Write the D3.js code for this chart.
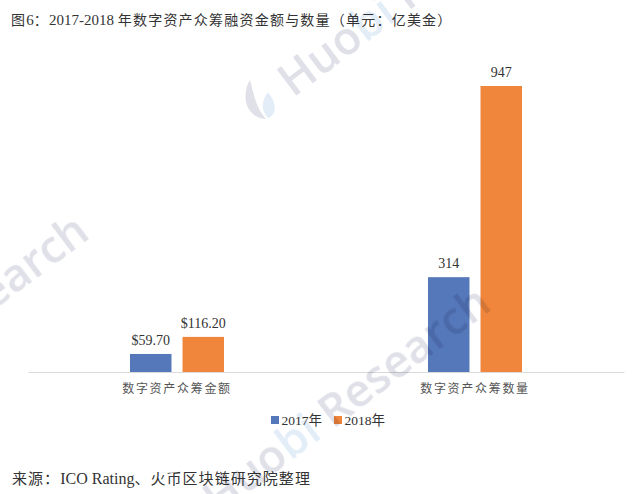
<!DOCTYPE html>
<html>
<head>
<meta charset="utf-8">
<script src="https://cdnjs.cloudflare.com/ajax/libs/d3/7.8.5/d3.min.js"></script>
<style>
html, body { margin: 0; padding: 0; background: #fff; }
svg { display: block; }
text { font-family: "Liberation Serif", "Noto Sans CJK SC", serif; fill: #333; }
</style>
</head>
<body>
<script>
var width = 638;
var height = 494;

var categories = ["数字资产众筹金额", "数字资产众筹数量"];
var seriesNames = ["2017年", "2018年"];
var values2017 = [59.7, 314];
var values2018 = [116.2, 947];
var labels2017 = ["$59.70", "314"];
var labels2018 = ["$116.20", "947"];
var colors = ["#5578ba", "#f0853c"];
var titleText = "图6：2017-2018 年数字资产众筹融资金额与数量（单元：亿美金）";
var sourceText = "来源：ICO Rating、火币区块链研究院整理";

var baseY = 372;
var topY = 86;

var svg = d3.select("body").append("svg").attr("width", width).attr("height", height);

var x = d3.scaleBand().domain(categories).range([28, 624]);
var y = d3.scaleLinear().domain([0, 947]).range([baseY, topY]);
var groupX = d3.scaleBand().domain(seriesNames).range([-47, 47]).paddingInner(0.21).paddingOuter(0);

var series = [
  { name: seriesNames[0], values: values2017, labels: labels2017, color: colors[0] },
  { name: seriesNames[1], values: values2018, labels: labels2018, color: colors[1] }
];

var groups = svg.selectAll("g.series").data(series).enter().append("g").attr("class", "series");

groups.selectAll("rect").data(function (s) {
  return s.values.map(function (v, i) { return { name: s.name, v: v, cat: categories[i], color: s.color }; });
}).enter().append("rect")
  .attr("x", function (d) { return x(d.cat) + x.bandwidth() / 2 + groupX(d.name); })
  .attr("y", function (d) { return y(d.v); })
  .attr("width", groupX.bandwidth())
  .attr("height", function (d) { return baseY - y(d.v); })
  .attr("fill", function (d) { return d.color; });

groups.selectAll("text").data(function (s) {
  return s.values.map(function (v, i) { return { name: s.name, v: v, cat: categories[i], label: s.labels[i] }; });
}).enter().append("text")
  .attr("x", function (d) { return x(d.cat) + x.bandwidth() / 2 + groupX(d.name) + groupX.bandwidth() / 2; })
  .attr("y", function (d) { return y(d.v) - 9; })
  .attr("text-anchor", "middle")
  .attr("font-size", 14)
  .text(function (d) { return d.label; });

// category axis
var axis = svg.append("g").attr("transform", "translate(0," + baseY + ")")
  .call(d3.axisBottom(x).tickSize(0).tickPadding(12));
axis.select(".domain").attr("stroke", "#d9d9d9");
axis.selectAll("text")
  .style("font-family", "'Noto Sans CJK SC', serif")
  .attr("font-size", 12)
  .attr("letter-spacing", 1.7)
  .style("fill", "#555");

// legend
var legendX = [271, 334];
var legend = svg.selectAll("g.legend").data(series).enter().append("g")
  .attr("class", "legend")
  .attr("transform", function (d, i) { return "translate(" + legendX[i] + ",420)"; });
legend.append("rect").attr("y", -4).attr("width", 8).attr("height", 8)
  .attr("fill", function (d) { return d.color; });
legend.append("text").attr("x", 10.5).attr("y", 5).attr("font-size", 13.5)
  .text(function (d) { return d.name; });

// latin and chinese runs get different size and spacing
function mixedText(str, px, py, latinSize, cjkSize, cjkSpacing) {
  var t = svg.append("text").attr("x", px).attr("y", py);
  str.match(/[\x20-\x7e]+|[^\x20-\x7e]+/g).forEach(function (run) {
    var latin = /^[\x20-\x7e]/.test(run);
    t.append("tspan")
      .attr("font-size", latin ? latinSize : cjkSize)
      .attr("letter-spacing", latin ? 0 : cjkSpacing)
      .attr("xml:space", "preserve")
      .text(run);
  });
}
mixedText(titleText, 11, 25, 15, 14, 1.22);
mixedText(sourceText, 12, 484, 16, 15, 1.05);

// watermark on top of the marks, the bars show through it
var wm = svg.append("g").style("mix-blend-mode", "multiply");
var wmGray = "#dfe0e8";
var wmBlue = "#e2edf8";
var wmAngle = -37;

var wmWords = [
  { x: 293, y: 98, gray: "Huo", blue: "bi", rest: " Research" },
  { x: -69, y: 358, gray: "", blue: "", rest: "Research" },
  { x: 218, y: 516, gray: "Huo", blue: "bi", rest: " Research" }
];
wmWords.forEach(function (w) {
  var t = wm.append("text")
    .attr("transform", "translate(" + w.x + "," + w.y + ") rotate(" + wmAngle + ")")
    .attr("font-size", 45.5)
    .attr("xml:space", "preserve")
    .style("font-family", "'Open Sans', sans-serif")
    .style("font-weight", 600);
  t.append("tspan").style("fill", wmGray).text(w.gray);
  t.append("tspan").style("fill", wmBlue).text(w.blue);
  t.append("tspan").style("fill", wmGray).text(w.rest);
});

// drop logo in front of the top watermark
var drop = wm.append("g").attr("transform", "translate(263,100)");
drop.append("path").attr("d", "M-13,-20 C-22,-5 -18,17 3,19 C-7,8 -9,-5 -13,-20 Z").attr("fill", wmGray);
drop.append("path").attr("d", "M5,-8 C13,2 15,14 5,18 C-2,10 -2,2 5,-8 Z").attr("fill", wmBlue);
</script>
</body>
</html>
